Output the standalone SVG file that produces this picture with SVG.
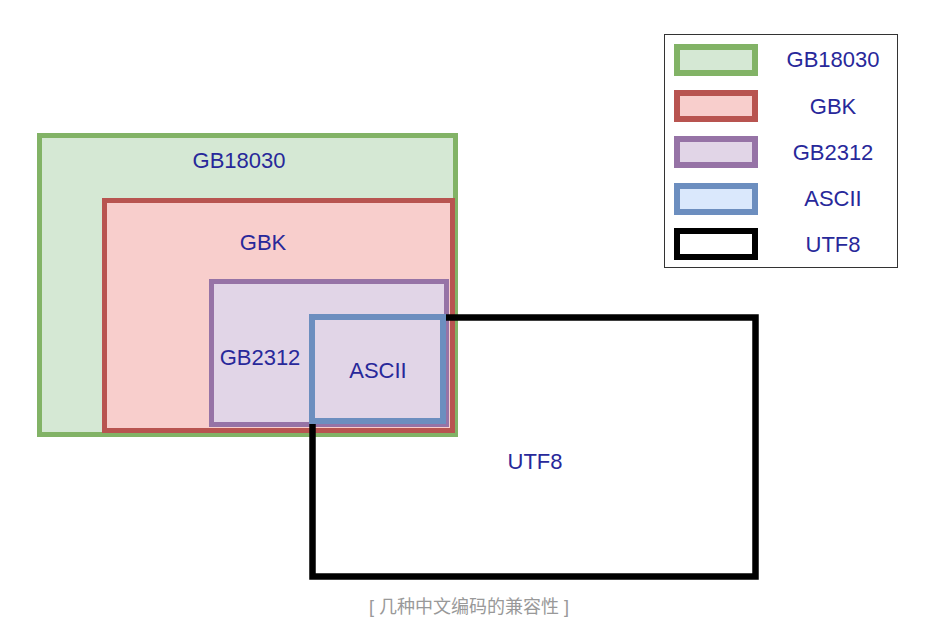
<svg xmlns="http://www.w3.org/2000/svg" width="938" height="631" viewBox="0 0 938 631">
<style>
.lbl{font-family:"Liberation Sans",Arial,sans-serif;font-size:22px;fill:#28289a;text-anchor:middle}
.leg{font-family:"Liberation Sans",Arial,sans-serif;font-size:22px;fill:#28289a;text-anchor:middle}
.green{fill:#d5e8d4;stroke:#82b366}
.red{fill:#f8cecc;stroke:#b85450}
.purple{fill:#e1d5e7;stroke:#9673a6}
.blue{fill:#dae8fc;stroke:#6c8ebf}
.black{fill:#ffffff;stroke:#000000}
.cap{font-family:"Liberation Sans","Noto Sans CJK SC",sans-serif;font-size:18px;fill:#999999;text-anchor:middle}
</style>
<rect width="938" height="631" fill="#ffffff"/>
<g id="gb18030">
<rect class="green" x="39.5" y="135.5" width="416" height="299" stroke-width="5"/>
<text class="lbl" x="239" y="168">GB18030</text>
</g>
<g id="gbk">
<rect class="red" x="104.5" y="200.5" width="348" height="230" stroke-width="5"/>
<text class="lbl" x="263" y="250">GBK</text>
</g>
<g id="gb2312">
<rect class="purple" x="211.5" y="281.5" width="235" height="143" stroke-width="5"/>
<text class="lbl" x="260" y="365">GB2312</text>
</g>
<g id="utf8">
<rect x="312.5" y="317.5" width="443" height="259" fill="none" stroke="#000" stroke-width="6.5"/>
<text class="lbl" x="535" y="469">UTF8</text>
</g>
<g id="ascii">
<rect x="312" y="317" width="131" height="104" fill="#e1d5e7" stroke="#6c8ebf" stroke-width="6"/>
<text class="lbl" x="378" y="378">ASCII</text>
</g>
<g id="legend">
<rect x="664.5" y="34.5" width="233" height="233" fill="#ffffff" stroke="#333333" stroke-width="1"/>
<rect class="green" x="677" y="47" width="78" height="26" stroke-width="6"/>
<text class="leg" x="833" y="67">GB18030</text>
<rect class="red" x="677" y="93" width="78" height="26" stroke-width="6"/>
<text class="leg" x="833" y="114">GBK</text>
<rect class="purple" x="677" y="139" width="78" height="26" stroke-width="6"/>
<text class="leg" x="833" y="160">GB2312</text>
<rect class="blue" x="677" y="186" width="78" height="26" stroke-width="6"/>
<text class="leg" x="833" y="206">ASCII</text>
<rect class="black" x="677" y="231" width="78" height="26" stroke-width="6"/>
<text class="leg" x="833" y="252">UTF8</text>
</g>
<g id="connectors"/>
<g id="caption">
<text class="cap" x="469" y="613">[ 几种中文编码的兼容性 ]</text>
</g>
</svg>
